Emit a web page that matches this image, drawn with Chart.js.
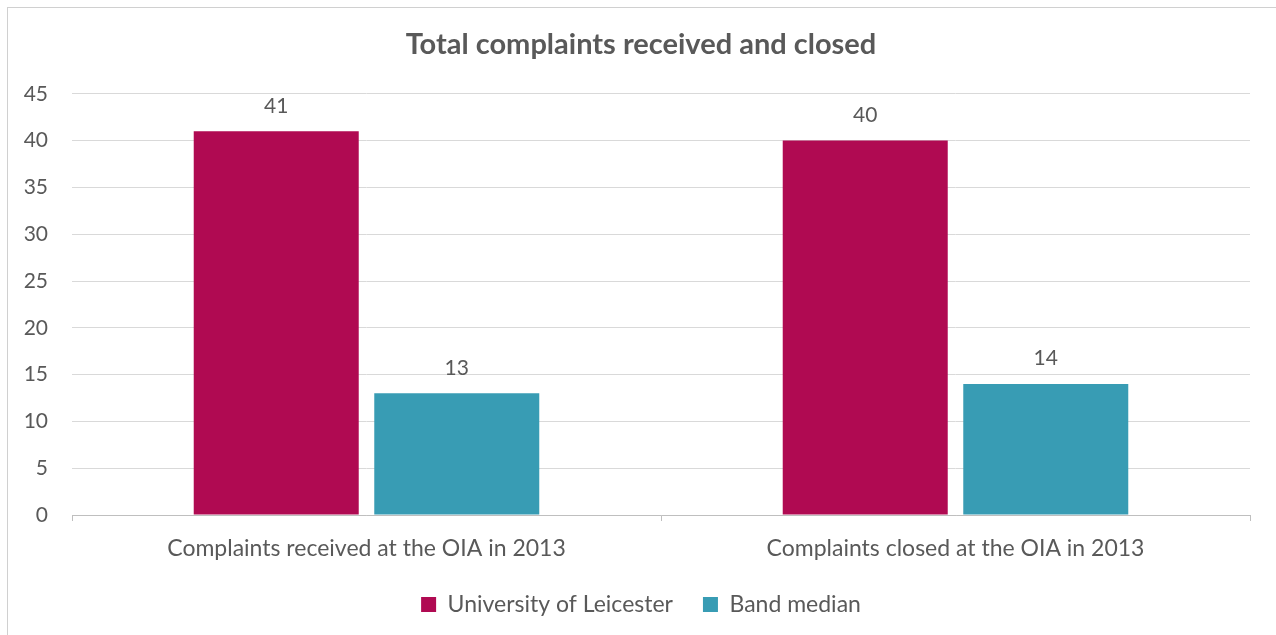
<!DOCTYPE html>
<html>
<head>
<meta charset="utf-8">
<script src="https://cdn.jsdelivr.net/npm/chart.js@4"></script>
<style>
  html, body { margin: 0; padding: 0; background: #fff; overflow: hidden; }
  #wrap { position: relative; width: 1276px; height: 635px; overflow: hidden; }
  #frame { position: absolute; left: 7px; top: 7px; width: 1300px; height: 700px; border: 1px solid #d0d0d0; box-sizing: border-box; }
  #chart { position: absolute; left: 0; top: 0; }
</style>
</head>
<body>
<div id="wrap">
  <div id="frame"></div>
  <canvas id="chart" width="1282" height="635"></canvas>
</div>
<script>
// chart data
const categories = ['Complaints received at the OIA in 2013', 'Complaints closed at the OIA in 2013'];
const seriesNames = ['University of Leicester', 'Band median'];
const leicesterValues = [41, 40];
const medianValues = [13, 14];
const yTicks = [0, 5, 10, 15, 20, 25, 30, 35, 40, 45];

const FONT = 'Lato, "Open Sans", sans-serif';
const TEXT = '#595959';

// draws the value above each bar
const barLabels = {
  id: 'barLabels',
  afterDatasetsDraw(chart) {
    const ctx = chart.ctx;
    ctx.save();
    ctx.font = '21px ' + FONT;
    ctx.fillStyle = TEXT;
    ctx.textAlign = 'center';
    ctx.textBaseline = 'bottom';
    chart.data.datasets.forEach((ds, i) => {
      chart.getDatasetMeta(i).data.forEach((bar, j) => {
        ctx.fillText(ds.data[j], bar.x, bar.y - 15);
      });
    });
    ctx.restore();
  }
};

new Chart(document.getElementById('chart'), {
  type: 'bar',
  data: {
    labels: categories,
    datasets: [
      {
        label: seriesNames[0],
        data: leicesterValues,
        backgroundColor: '#B00A52',
        categoryPercentage: 0.613,
        barPercentage: 0.914
      },
      {
        label: seriesNames[1],
        data: medianValues,
        backgroundColor: '#389CB4',
        categoryPercentage: 0.613,
        barPercentage: 0.914
      }
    ]
  },
  options: {
    responsive: false,
    animation: false,
    layout: { padding: { left: 0, right: 0, top: 0, bottom: 9 } },
    plugins: {
      title: {
        display: true,
        text: 'Total complaints received and closed',
        color: TEXT,
        font: { family: FONT, size: 29, weight: 'bold' },
        padding: { top: 27, bottom: 32 }
      },
      legend: {
        position: 'bottom',
        labels: {
          color: TEXT,
          font: { family: FONT, size: 23 },
          boxWidth: 15,
          boxHeight: 15,
          padding: 30
        }
      },
      tooltip: { enabled: false }
    },
    scales: {
      x: {
        grid: { display: true, drawOnChartArea: false, drawTicks: true, tickLength: 6, color: '#bfbfbf' },
        border: { display: true, color: '#bfbfbf' },
        ticks: { color: TEXT, font: { family: FONT, size: 23 }, padding: 14, maxRotation: 0 },
        afterFit: (scale) => { scale.height = 48; }
      },
      y: {
        min: 0,
        max: 45,
        afterBuildTicks: (scale) => { scale.ticks = yTicks.map(v => ({ value: v })); },
        grid: { color: '#d9d9d9', drawTicks: false },
        border: { display: false },
        ticks: { color: TEXT, font: { family: FONT, size: 21 }, padding: 24 },
        afterFit: (scale) => { scale.width = 72; }
      },
      // empty right margin so the title and legend sit where the original has them
      spacer: {
        position: 'right',
        display: true,
        grid: { display: false },
        border: { display: false },
        ticks: { display: false },
        afterFit: (scale) => { scale.width = 32; }
      }
    }
  },
  plugins: [barLabels]
});
</script>
</body>
</html>
